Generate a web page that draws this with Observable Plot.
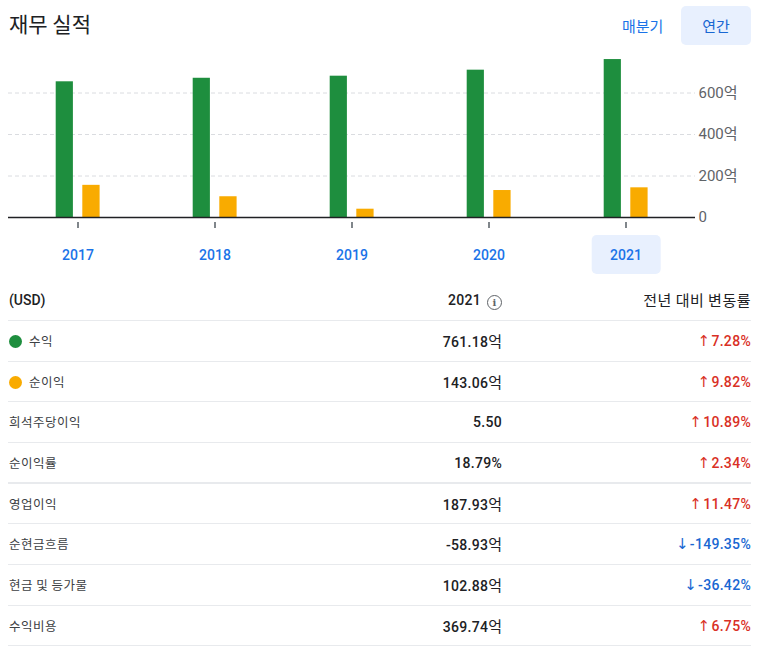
<!DOCTYPE html>
<html><head><meta charset="utf-8">
<script src="https://cdn.jsdelivr.net/npm/d3@7"></script>
<script src="https://cdn.jsdelivr.net/npm/@observablehq/plot@0.6"></script>
<style>
body{margin:0;background:#fff;font-family:Roboto,"Noto Sans CJK KR",sans-serif;color:#202124;}
#wrap{position:relative;width:759px;height:650px;overflow:hidden;}
#title{position:absolute;left:9px;top:6px;font-size:21px;line-height:34px;font-family:"Noto Sans CJK KR",sans-serif;color:#202124;}
#quarter{position:absolute;left:622px;top:12px;font-size:15px;line-height:28px;color:#1a73e8;font-family:"Noto Sans CJK KR",sans-serif;}
#annual{position:absolute;left:681px;top:6px;width:70px;height:39px;border-radius:5px;background:#e8f0fe;color:#1967d2;font-size:15px;line-height:39px;text-align:center;font-family:"Noto Sans CJK KR",sans-serif;}
#chart{position:absolute;left:0;top:50px;}
#table{position:absolute;left:8px;top:280px;width:743px;}
.row{position:relative;height:39.6px;border-bottom:1px solid #e8eaed;}
.row.head{height:40px;}
.row.thick{border-bottom:2px solid #e8eaed;height:39px;}
.lab{position:absolute;left:1px;top:0;line-height:40px;font-size:12.5px;color:#3c4043;font-family:"Noto Sans CJK KR",sans-serif;letter-spacing:0.5px;}
.val{position:absolute;right:249px;top:0;line-height:40px;font-size:14px;font-weight:500;color:#202124;letter-spacing:0.3px;}
.val .u{font-weight:400;font-size:15px;font-family:"Noto Sans CJK KR",sans-serif;letter-spacing:0;}
.chg{position:absolute;right:0;top:0;line-height:40px;font-size:14px;font-weight:500;letter-spacing:0.3px;}
.up{color:#d93025}.down{color:#1967d2}
.dot{display:inline-block;width:13px;height:13px;border-radius:50%;vertical-align:-2px;margin-right:7px;}
.arr{font-family:"DejaVu Sans",sans-serif;font-size:15px;font-weight:400;margin-right:1px;}
.head .lab{font-size:14px;color:#202124;font-family:Roboto,sans-serif;font-weight:500;letter-spacing:0;}
.head .val{font-size:14px;}
.head .chg{font-size:15px;font-weight:400;color:#202124;font-family:"Noto Sans CJK KR",sans-serif;letter-spacing:0.5px;}
.info{display:inline-block;width:13px;height:13px;border:1.5px solid #5f6368;border-radius:50%;font-size:10px;line-height:13px;text-align:center;color:#5f6368;margin-left:6px;vertical-align:-1px;font-weight:700;font-family:"DejaVu Serif",serif;letter-spacing:0;}
</style></head>
<body>
<div id="wrap">
  <div id="title">재무 실적</div>
  <div id="quarter">매분기</div>
  <div id="annual">연간</div>
  <div id="chart"></div>
  <div id="table"></div>
</div>
<script>
const years = ["2017", "2018", "2019", "2020", "2021"];
const revenue = [654, 671, 681, 710, 761.18];
const netIncome = [155, 100, 40, 130, 143.06];
const yTicks = [0, 200, 400, 600];
const selectedYear = "2021";

const rowLabels = ["수익", "순이익", "희석주당이익", "순이익률", "영업이익", "순현금흐름", "현금 및 등가물", "수익비용"];
const rowValues = ["761.18", "143.06", "5.50", "18.79%", "187.93", "-58.93", "102.88", "369.74"];
const rowUnits = ["억", "억", "", "", "억", "억", "억", "억"];
const rowChanges = ["7.28%", "9.82%", "10.89%", "2.34%", "11.47%", "-149.35%", "-36.42%", "6.75%"];
const rowDirs = ["up", "up", "up", "up", "up", "down", "down", "up"];

const green = "#1e8e3e", orange = "#f9ab00";
const data = years.map((year, i) => ({year, revenue: revenue[i], netIncome: netIncome[i]}));

const plot = Plot.plot({
  width: 759, height: 230,
  marginLeft: 8, marginRight: 64, marginTop: 1, marginBottom: 63,
  style: {fontFamily: "Roboto, 'Noto Sans CJK KR', sans-serif", background: "transparent"},
  x: {domain: years, padding: 0, axis: null},
  y: {domain: [0, 800], axis: null},
  marks: [
    Plot.gridY(yTicks.filter(d => d > 0), {stroke: "#dadce0", strokeOpacity: 1, strokeDasharray: "4,3"}),
    Plot.axisY(yTicks, {anchor: "right", tickSize: 0, tickPadding: 3, fontSize: 15, fill: "#5f6368", label: null,
      tickFormat: d => d === 0 ? "0" : d + "억"}),
    Plot.barY(data, {x: "year", y: "revenue", fill: green, insetLeft: 46.7, insetRight: 73.1}),
    Plot.barY(data, {x: "year", y: "netIncome", fill: orange, insetLeft: 73.3, insetRight: 46.4}),
    Plot.ruleY([0], {stroke: "#202124", strokeWidth: 1.5}),
    Plot.axisX({tickSize: 6, tickFormat: () => "", dy: 5, stroke: "#80868b", strokeWidth: 2, label: null}),
    Plot.axisX({tickSize: 0, tickPadding: 33, fontSize: 14, fontWeight: 500, fill: "#1a73e8", label: null})
  ]
});

// highlight behind the selected year label
const xs = plot.scale("x");
const y0 = plot.scale("y").apply(0);
const bx = xs.apply(selectedYear);
d3.select(plot).insert("rect", "g")
  .attr("x", bx + 34.7).attr("width", xs.bandwidth - 68)
  .attr("y", y0 + 18).attr("height", 39)
  .attr("rx", 5).attr("fill", "#e8f0fe");
document.getElementById("chart").appendChild(plot);

// table
const table = d3.select("#table");
const head = table.append("div").attr("class", "row head");
head.append("div").attr("class", "lab").text("(USD)");
head.append("div").attr("class", "val").html(selectedYear + '<span class="info">i</span>');
head.append("div").attr("class", "chg").text("전년 대비 변동률");

rowLabels.forEach((lab, i) => {
  const r = table.append("div").attr("class", "row" + (i === 3 ? " thick" : ""));
  const l = r.append("div").attr("class", "lab");
  if (i === 0) l.append("span").attr("class", "dot").style("background", green);
  if (i === 1) l.append("span").attr("class", "dot").style("background", orange);
  l.append("span").text(lab);
  const v = r.append("div").attr("class", "val");
  v.append("span").text(rowValues[i]);
  if (rowUnits[i]) v.append("span").attr("class", "u").text(rowUnits[i]);
  const c = r.append("div").attr("class", "chg " + rowDirs[i]);
  c.append("span").attr("class", "arr").text(rowDirs[i] === "up" ? "↑" : "↓");
  c.append("span").text(rowChanges[i]);
});
</script>
</body></html>
